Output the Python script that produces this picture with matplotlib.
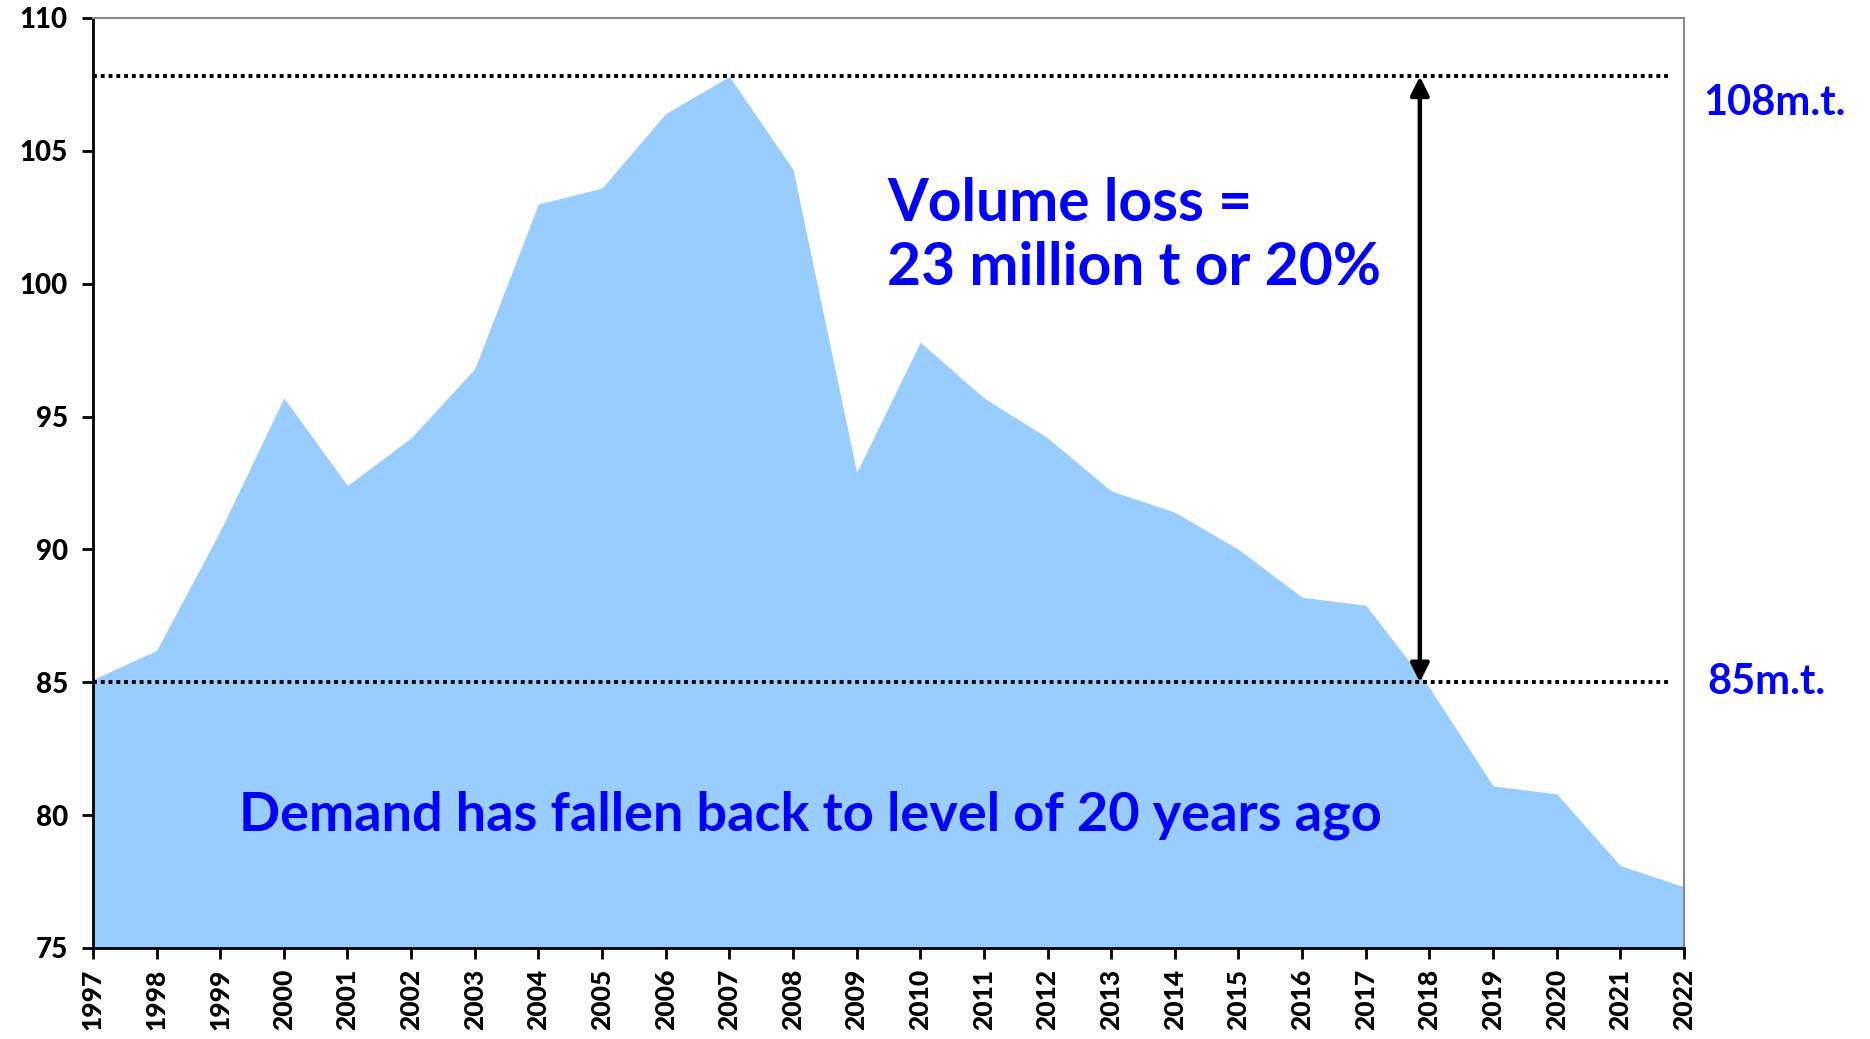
import matplotlib
matplotlib.use("Agg")
import matplotlib.pyplot as plt
import numpy as np

plt.rcParams['font.family'] = ['Lato', 'DejaVu Sans']
plt.rcParams['font.weight'] = 'bold'

# demand, million tonnes
years = list(range(1997, 2023))
demand = [85.1, 86.2, 90.7, 95.7, 92.4, 94.2, 96.8, 103.0, 103.6, 106.4,
          107.8, 104.3, 92.9, 97.8, 95.7, 94.2, 92.2, 91.4, 90.0, 88.2,
          87.9, 84.8, 81.1, 80.8, 78.1, 77.3]

peak = 107.8
now = 85.0
arrow_year = 2017.85
blue = "#0000FF"

fig = plt.figure(figsize=(18.7, 10.39), dpi=100)
ax = fig.add_axes([0.0497, 0.0876, 0.8508, 0.8951])

ax.fill_between(years, demand, 75, color="#99CCFF", linewidth=0)

ax.plot([1997, 2021.8], [peak, peak], color="black", linestyle=(0, (1, 1)), linewidth=2.8)
ax.plot([1997, 2021.8], [now, now], color="black", linestyle=(0, (1, 1)), linewidth=2.8)

ax.annotate("", xy=(arrow_year, peak), xytext=(arrow_year, now),
            arrowprops=dict(arrowstyle="<|-|>", color="black", lw=3.2,
                            mutation_scale=28, shrinkA=0, shrinkB=0))

ax.text(2009.48, 101.8, "Volume loss =\n23 million t or 20%", color=blue,
        fontsize=42.3, fontweight="bold", va="center", ha="left", linespacing=1.22)
ax.text(1999.29, 80.0, "Demand has fallen back to level of 20 years ago", color=blue,
        fontsize=39, fontweight="bold", va="center", ha="left")

ax.text(1.012, (peak - 1.0 - 75) / 35, "108m.t.", transform=ax.transAxes, color=blue,
        fontsize=30, fontweight="bold", va="center", ha="left")
ax.text(1.015, (now - 75) / 35, "85m.t.", transform=ax.transAxes, color=blue,
        fontsize=30, fontweight="bold", va="center", ha="left")

ax.set_xlim(1997, 2022)
ax.set_ylim(75, 110)
ax.set_xticks(years)
ax.set_xticklabels([str(y) for y in years], rotation=90, fontsize=19, fontweight=900)
ax.set_yticks(np.arange(75, 111, 5))
ax.set_yticklabels([str(v) for v in range(75, 111, 5)], fontsize=20, fontweight=900)
ax.tick_params(direction="out", length=8, width=2, color="black")
ax.tick_params(axis="x", pad=7)
ax.tick_params(axis="y", pad=10)

for s in ["left", "bottom"]:
    ax.spines[s].set_color("black")
    ax.spines[s].set_linewidth(2)
for s in ["top", "right"]:
    ax.spines[s].set_color("#888888")
    ax.spines[s].set_linewidth(1.5)

fig.savefig("out.png", dpi=100)
